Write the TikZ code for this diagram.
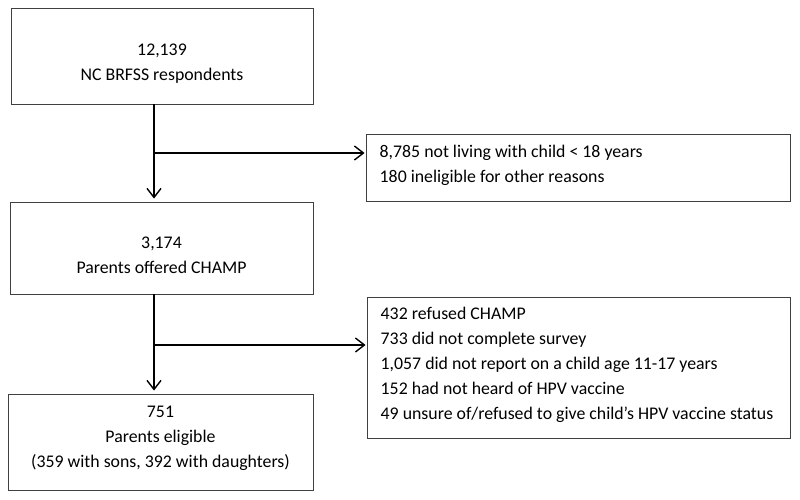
\documentclass[tikz,border=0pt]{standalone}
\usepackage{fontspec}
\setmainfont{Carlito}
\usetikzlibrary{arrows.meta}

\begin{document}
\begin{tikzpicture}[x=1pt,y=-1pt,line width=1.4pt,>={Straight Barb[length=9pt,width=14pt]},
  box/.style={draw=black!75,line width=0.9pt,inner sep=0pt},
  txt/.style={align=center,font=\fontsize{17.8}{25}\selectfont,inner sep=0pt},
  ltxt/.style={align=left,font=\fontsize{17.8}{25}\selectfont,inner sep=0pt,anchor=west}]
  \useasboundingbox (0,0) rectangle (800,499);
  % main column
  \node[box,minimum width=302pt,minimum height=96pt] (resp) at (162,56) {};
  \node[txt] (resptxt) at (162,64) {12,139\\NC BRFSS respondents};
  \node[box,minimum width=303pt,minimum height=92pt] (offer) at (161.5,248) {};
  \node[txt] (offertxt) at (161.5,255.5) {3,174\\Parents offered CHAMP};
  \node[box,minimum width=305pt,minimum height=96pt] (elig) at (160.5,442) {};
  \node[txt] (eligtxt) at (160.5,438) {751\\Parents eligible\\(359 with sons, 392 with daughters)};
  % exclusions
  \node[box,minimum width=424pt,minimum height=67pt] (excl1) at (578,167.5) {};
  \node[ltxt] (excl1txt) at (379,165.5) {8,785 not living with child < 18 years\\180 ineligible for other reasons};
  \node[box,minimum width=423pt,minimum height=141pt] (excl2) at (578.5,367.5) {};
  \node[ltxt] (excl2txt) at (380,365) {432 refused CHAMP\\733 did not complete survey\\1,057 did not report on a child age 11-17 years\\152 had not heard of HPV vaccine\\49 unsure of/refused to give child’s HPV vaccine status};
  % connectors
  \draw[->,shorten >=3pt] ([xshift=-8pt]resp.south) -- ([xshift=-8pt]resp.south |- offer.north);
  \coordinate (j1) at (154,153);
  \draw[->,shorten >=1pt] (j1) -- (j1 -| excl1.west);
  \draw[->,shorten >=3pt] ([xshift=-7.5pt]offer.south) -- ([xshift=-7.5pt]offer.south |- elig.north);
  \coordinate (j2) at (154,345);
  \draw[->,shorten >=1pt] (j2) -- (j2 -| excl2.west);
\end{tikzpicture}
\end{document}
